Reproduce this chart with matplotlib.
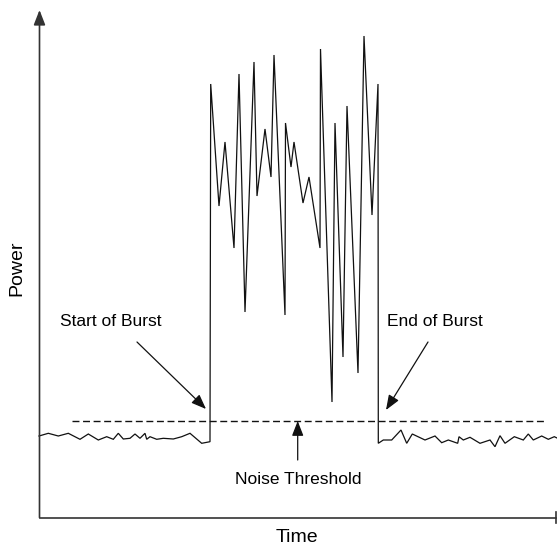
import matplotlib
matplotlib.use("Agg")
import matplotlib.pyplot as plt

plt.rcParams['font.family'] = ['Liberation Sans', 'DejaVu Sans']

# Signal trace (time, power) in chart units (power measured upward)
H = 548
pre_t = [39, 48.3, 58.3, 68.3, 80, 88.3, 98.3, 106.7, 113.3, 118.3, 123.3, 130, 135, 140, 145, 146.7,
         150, 156.7, 163.3, 173.3, 181.7, 190, 201.7, 210]
pre_y = [436, 433.3, 436, 433.3, 439.3, 434, 440, 436.7, 439.3, 433.3, 439, 438.3, 434, 438.3, 433.3,
         439.3, 436.7, 439.3, 438.3, 439, 436.7, 433.3, 443.3, 441.7]
burst_t = [210, 210.7, 219, 225, 234, 239, 245, 254, 257, 265, 271, 274, 285, 285.5, 291, 294, 303, 309,
           320, 320.5, 332, 335, 343, 347, 358, 364, 372, 378, 378.3]
burst_y = [441.7, 84, 206, 142, 248, 74, 312, 62, 196, 129, 177, 55, 315, 123, 167, 142, 203, 177,
           248, 49, 402, 123, 357, 106, 373, 36, 215, 84, 443.3]
post_t = [378.3, 383.3, 391.7, 401, 406.7, 412.3, 425, 435, 441.7, 448.3, 457.7, 459, 463.3, 470,
          480, 490, 495, 500, 505, 514.3, 523.3, 528.3, 533.3, 541.7, 548.3, 554.3, 557]
post_y = [443.3, 440, 440, 430, 443.3, 434, 440, 436, 442.7, 440, 443.3, 436.7, 440, 437.3,
          443.3, 440, 446.7, 435.7, 443.3, 436.7, 440, 434, 440, 436, 439.3, 436.7, 438]

threshold_y = 420.5
threshold_span = [72, 546]

labels = {"start": "Start of Burst", "end": "End of Burst", "noise": "Noise Threshold",
          "x": "Time", "y": "Power"}

fig = plt.figure(figsize=(5.57, 5.48), dpi=100)
ax = fig.add_axes([0, 0, 1, 1])
ax.set_xlim(0, 557)
ax.set_ylim(0, H)
ax.axis('off')

def P(v):
    return [H - a for a in v]

lc = '#111111'
lw = 0.9
t_all = pre_t + burst_t[1:] + post_t[1:]
y_all = pre_y + burst_y[1:] + post_y[1:]
ax.plot(t_all, P(y_all), color=lc, lw=lw, solid_joinstyle='miter')

# threshold
ax.plot(threshold_span, [H - threshold_y] * 2, color=lc, lw=1.0, dashes=(5.0, 2.6))

# axes with arrow
ax.annotate('', xy=(39.5, H - 10), xytext=(39.5, H - 517.5),
            arrowprops=dict(arrowstyle='-|>,head_length=0.9,head_width=0.35', color='#333333',
                            lw=1.2, shrinkA=0, shrinkB=0))
ax.plot([39.5, 556], [H - 517.5] * 2, color='#333333', lw=1.2)
ax.plot([556, 556], [H - 512, H - 523], color='#333333', lw=1.2)

arrow_kw = dict(arrowstyle='-|>,head_length=0.9,head_width=0.35', color=lc, lw=0.9,
                shrinkA=0, shrinkB=0)
ax.annotate('', xy=(206, H - 409), xytext=(137, H - 342), arrowprops=arrow_kw)
ax.annotate('', xy=(386, H - 410), xytext=(428, H - 342), arrowprops=arrow_kw)
ax.annotate('', xy=(297.7, H - 421), xytext=(297.7, H - 460), arrowprops=arrow_kw)

fs = 12.5
ax.text(111, H - 322, labels["start"], fontsize=fs, ha='center', va='center')
ax.text(435, H - 322, labels["end"], fontsize=fs, ha='center', va='center')
ax.text(298, H - 479, labels["noise"], fontsize=fs, ha='center', va='center')
ax.text(297, H - 537, labels["x"], fontsize=14, ha='center', va='center')
ax.text(17, H - 268, labels["y"], fontsize=14, ha='center', va='center', rotation=90)

fig.savefig('out.png', dpi=100)
